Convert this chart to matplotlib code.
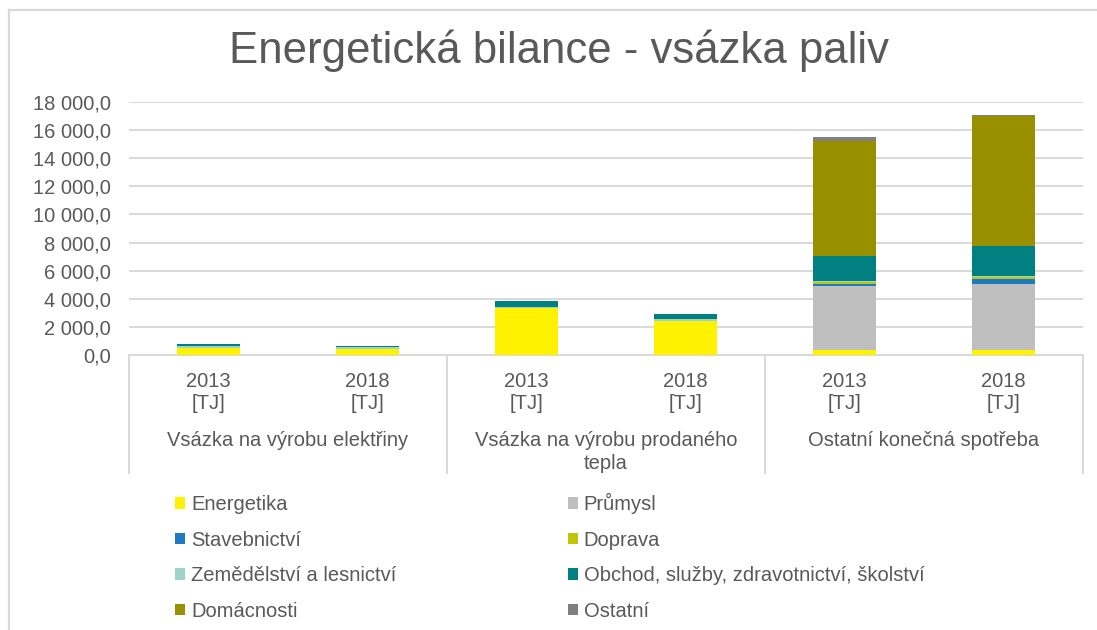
import matplotlib
matplotlib.use("Agg")
from matplotlib import pyplot as plt
from matplotlib.lines import Line2D
from matplotlib.transforms import blended_transform_factory
import numpy as np

plt.rcParams['font.family'] = ['Liberation Sans', 'DejaVu Sans']

# data (TJ), order of bars: 3 groups x (2013, 2018)
groups = ["Vsázka na výrobu elektřiny", "Vsázka na výrobu prodaného\ntepla",
          "Ostatní konečná spotřeba"]
years = ["2013\n[TJ]", "2018\n[TJ]"] * 3

energetika = [520, 400, 3370, 2420, 380, 380]
prumysl = [0, 0, 0, 0, 4560, 4670]
stavebnictvi = [0, 0, 0, 0, 140, 380]
doprava = [0, 0, 0, 0, 100, 120]
zemedelstvi = [140, 165, 80, 140, 80, 70]
obchod = [90, 70, 380, 355, 1780, 2110]
domacnosti = [0, 0, 0, 0, 8150, 9270]
ostatni = [0, 0, 0, 0, 290, 70]

series = [
    ("Energetika", energetika, "#fff200"),
    ("Průmysl", prumysl, "#bfbfbf"),
    ("Stavebnictví", stavebnictvi, "#1f7bc1"),
    ("Doprava", doprava, "#bfc60a"),
    ("Zemědělství a lesnictví", zemedelstvi, "#9dd3c8"),
    ("Obchod, služby, zdravotnictví, školství", obchod, "#008080"),
    ("Domácnosti", domacnosti, "#999000"),
    ("Ostatní", ostatni, "#7f7f7f"),
]

txt = "#595959"
grid = "#d9d9d9"
W, H = 1097, 630

fig = plt.figure(figsize=(W / 100, H / 100), dpi=100)
ax = fig.add_axes([129 / W, 1 - 355 / H, (1083 - 129) / W, (355 - 102) / H])

x = np.arange(len(years))
bottom = np.zeros(len(years))
handles = {}
for name, vals, col in series:
    vals = np.array(vals, dtype=float)
    bars = ax.bar(x, vals, 0.39, bottom=bottom, color=col, label=name, zorder=3)
    handles[name] = bars
    bottom += vals

ax.set_xlim(-0.5, len(years) - 0.5)
ax.set_ylim(0, 18000)
ax.set_yticks(np.arange(0, 18001, 2000))
ax.set_yticklabels([f"{v:,.1f}".replace(",", " ").replace(".", ",") for v in range(0, 18001, 2000)])
ax.yaxis.grid(True, color=grid, lw=1.4, zorder=0)
ax.set_axisbelow(True)
for s in ["top", "right", "left"]:
    ax.spines[s].set_visible(False)
ax.spines["bottom"].set_color(grid)
ax.spines["bottom"].set_linewidth(1.4)
ax.tick_params(axis="y", length=0, pad=13, labelsize=14.5, labelcolor=txt)
ax.set_xticks(x)
ax.set_xticklabels(years, linespacing=1.2)
ax.tick_params(axis="x", length=0, pad=12, labelsize=14.5, labelcolor=txt)

# group labels and separators
tr = blended_transform_factory(ax.transData, ax.transAxes)
for i, g in enumerate(groups):
    ax.text(2 * i + 0.5, -0.3, g, transform=tr, ha="center", va="top",
            fontsize=14.5, color=txt, linespacing=1.25)
for xs in [-0.5, 1.5, 3.5, 5.5]:
    ax.add_line(Line2D([xs, xs], [0, -(473 - 355) / 253], transform=tr,
                       color=grid, lw=1.4, clip_on=False))

fig.text(559 / W, 1 - 51 / H, "Energetická bilance - vsázka paliv", ha="center",
         va="center", fontsize=31.5, color=txt)

# outer chart frame (only left and top edges visible)
fig.add_artist(Line2D([9 / W, 9 / W], [0, 1 - 10 / H], color=grid, lw=1.6))
fig.add_artist(Line2D([9 / W, 1], [1 - 10 / H, 1 - 10 / H], color=grid, lw=1.6))

# legend in two columns (column-major order for ncol=2)
order = ["Energetika", "Stavebnictví", "Zemědělství a lesnictví", "Domácnosti",
         "Průmysl", "Doprava", "Obchod, služby, zdravotnictví, školství", "Ostatní"]
fig.legend([handles[n] for n in order], order, loc="upper left", ncol=2,
           bbox_to_anchor=(175 / W, 1 - 493 / H), frameon=False, borderpad=0,
           borderaxespad=0, handlelength=0.5, handleheight=0.5,
           handletextpad=0.3, labelspacing=0.82, columnspacing=8.5,
           fontsize=14.5, labelcolor=txt)

fig.savefig("out.png", dpi=100)
